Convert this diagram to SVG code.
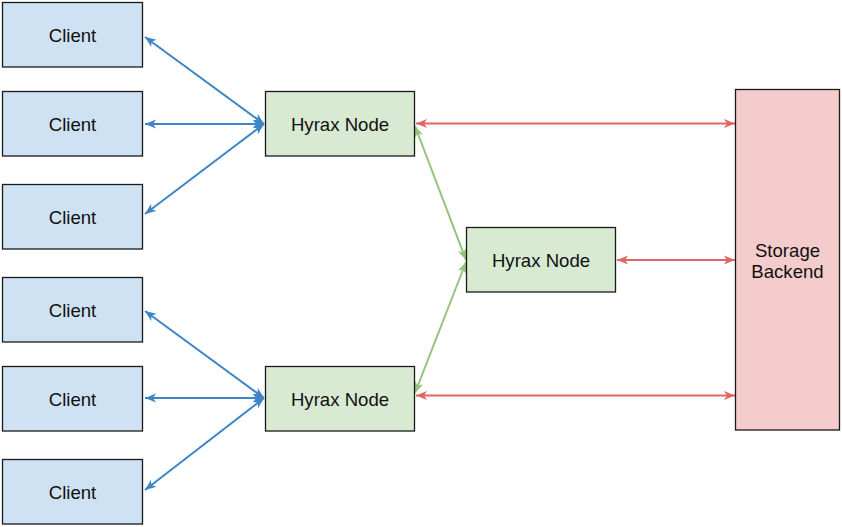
<svg xmlns="http://www.w3.org/2000/svg" width="842" height="527" viewBox="0 0 842 527">
<style>
.box{stroke:#1a1a1a;stroke-width:1.3}
.client{fill:#cfe2f3}
.hyrax{fill:#d9ead3}
.store{fill:#f4cccc}
text{font-family:"Liberation Sans",Arial,sans-serif;font-size:18.6px;fill:#111;text-anchor:middle}
.c{fill:none;stroke-width:2}
.b{stroke:#3d85c6}
.g{stroke:#93c47d}
.r{stroke:#e06666}
</style>
<defs>
<marker id="mb" markerUnits="userSpaceOnUse" markerWidth="12" markerHeight="10" refX="11" refY="4.5" orient="auto-start-reverse" overflow="visible"><path d="M0,0 L11,4.5 L0,9 L3,4.5 z" fill="#3d85c6"/></marker>
<marker id="mg" markerUnits="userSpaceOnUse" markerWidth="12" markerHeight="10" refX="11" refY="4.5" orient="auto-start-reverse" overflow="visible"><path d="M0,0 L11,4.5 L0,9 L3,4.5 z" fill="#93c47d"/></marker>
<marker id="mr" markerUnits="userSpaceOnUse" markerWidth="12" markerHeight="10" refX="11" refY="4.5" orient="auto-start-reverse" overflow="visible"><path d="M0,0 L11,4.5 L0,9 L3,4.5 z" fill="#e06666"/></marker>
</defs>
<g id="connectors">
<line class="c b" x1="145" y1="37" x2="264" y2="124" marker-start="url(#mb)" marker-end="url(#mb)"/>
<line class="c b" x1="145" y1="124" x2="264" y2="124" marker-start="url(#mb)" marker-end="url(#mb)"/>
<line class="c b" x1="145" y1="214" x2="264" y2="124" marker-start="url(#mb)" marker-end="url(#mb)"/>
<line class="c b" x1="145" y1="311" x2="264" y2="398" marker-start="url(#mb)" marker-end="url(#mb)"/>
<line class="c b" x1="145" y1="398" x2="264" y2="398" marker-start="url(#mb)" marker-end="url(#mb)"/>
<line class="c b" x1="145" y1="490" x2="264" y2="398" marker-start="url(#mb)" marker-end="url(#mb)"/>
<line class="c g" x1="415" y1="126" x2="466" y2="260" marker-start="url(#mg)" marker-end="url(#mg)"/>
<line class="c g" x1="415" y1="393" x2="466" y2="262" marker-start="url(#mg)" marker-end="url(#mg)"/>
<line class="c r" x1="416" y1="123.5" x2="735" y2="123.5" marker-start="url(#mr)" marker-end="url(#mr)"/>
<line class="c r" x1="617" y1="260" x2="735" y2="260" marker-start="url(#mr)" marker-end="url(#mr)"/>
<line class="c r" x1="416" y1="395.5" x2="735" y2="395.5" marker-start="url(#mr)" marker-end="url(#mr)"/>
</g>
<g id="client1"><rect class="box client" x="2.5" y="2.5" width="140" height="64.5"/><text x="72.5" y="41.5">Client</text></g>
<g id="client2"><rect class="box client" x="2.5" y="91.5" width="140" height="64.5"/><text x="72.5" y="130.5">Client</text></g>
<g id="client3"><rect class="box client" x="2.5" y="184.5" width="140" height="64.5"/><text x="72.5" y="223.5">Client</text></g>
<g id="client4"><rect class="box client" x="2.5" y="277.5" width="140" height="64.5"/><text x="72.5" y="316.5">Client</text></g>
<g id="client5"><rect class="box client" x="2.5" y="366.5" width="140" height="64.5"/><text x="72.5" y="405.5">Client</text></g>
<g id="client6"><rect class="box client" x="2.5" y="459.5" width="140" height="64.5"/><text x="72.5" y="498.5">Client</text></g>
<g id="hyrax1"><rect class="box hyrax" x="265.5" y="91.5" width="149" height="64.5"/><text x="340" y="130.5">Hyrax Node</text></g>
<g id="hyrax2"><rect class="box hyrax" x="466.5" y="227.5" width="149" height="64.5"/><text x="541" y="266.5">Hyrax Node</text></g>
<g id="hyrax3"><rect class="box hyrax" x="265.5" y="366.5" width="149" height="64.5"/><text x="340" y="405.5">Hyrax Node</text></g>
<g id="storage"><rect class="box store" x="735.5" y="89.5" width="104" height="340.5"/><text x="787.5" y="256.5">Storage</text><text x="787.5" y="278">Backend</text></g>
</svg>
